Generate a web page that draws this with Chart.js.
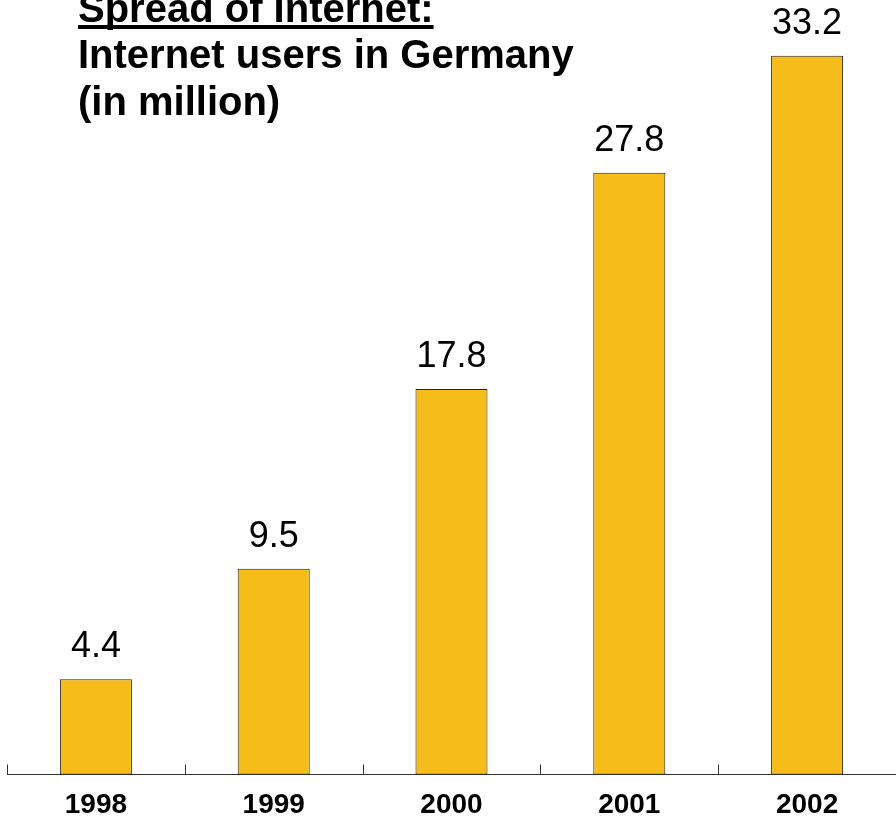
<!DOCTYPE html>
<html>
<head>
<meta charset="utf-8">
<script src="https://cdn.jsdelivr.net/npm/chart.js@4/dist/chart.umd.min.js"></script>
<style>
  html, body { margin: 0; padding: 0; background: #fff; overflow: hidden; }
  /* 軸ラベル下の余白を画面外に逃がすため、少し縦長にしている */
  #wrap { width: 896px; height: 836px; }
</style>
</head>
<body>
<div id="wrap"><canvas id="chart"></canvas></div>
<script>
// データ：ドイツのインターネット利用者数（百万人）
const years = ["1998", "1999", "2000", "2001", "2002"];
const users = [4.4, 9.5, 17.8, 27.8, 33.2];
const valueLabels = ["4.4", "9.5", "17.8", "27.8", "33.2"];
const titleLines = ["Spread of Internet:", "Internet users in Germany", "(in million)"];

const FONT = "'Liberation Sans', Arial, Helvetica, sans-serif";

// タイトル（1行目だけ下線つき）を左上に描く
const titlePlugin = {
  id: "titleText",
  afterDraw(chart) {
    const ctx = chart.ctx;
    ctx.save();
    ctx.fillStyle = "#000";
    ctx.font = "bold 40px " + FONT;
    ctx.textAlign = "left";
    ctx.textBaseline = "alphabetic";
    const baselines = [22, 68, 115];
    titleLines.forEach((t, i) => {
      ctx.fillText(t, 78, baselines[i]);
    });
    const w = ctx.measureText(titleLines[0]).width;
    ctx.fillRect(78, 25, w, 4);
    ctx.restore();
  },
};

// 棒の上の数値ラベル
const valuePlugin = {
  id: "valueText",
  afterDatasetsDraw(chart) {
    const ctx = chart.ctx;
    const meta = chart.getDatasetMeta(0);
    ctx.save();
    ctx.fillStyle = "#000";
    ctx.font = "36px " + FONT;
    ctx.textAlign = "center";
    ctx.textBaseline = "alphabetic";
    meta.data.forEach((bar, i) => {
      ctx.fillText(valueLabels[i], bar.x, bar.y - 22);
    });
    ctx.restore();
  },
};

// カテゴリの間の目盛り（軸線から上向き）
const tickPlugin = {
  id: "betweenTicks",
  afterDraw(chart) {
    const xs = chart.scales.x;
    const ctx = chart.ctx;
    const bottom = chart.chartArea.bottom;
    const xsList = [xs.left];
    for (let i = 1; i < years.length; i++) {
      xsList.push((xs.getPixelForTick(i - 1) + xs.getPixelForTick(i)) / 2);
    }
    xsList.push(xs.right);
    ctx.save();
    ctx.strokeStyle = "#333";
    ctx.lineWidth = 1;
    xsList.forEach((x) => {
      const px = Math.round(x) + 0.5;
      ctx.beginPath();
      ctx.moveTo(px, bottom);
      ctx.lineTo(px, bottom - 10);
      ctx.stroke();
    });
    ctx.restore();
  },
};

new Chart(document.getElementById("chart"), {
  type: "bar",
  data: {
    labels: years,
    datasets: [
      {
        data: users,
        backgroundColor: "#F5BC1A",
        borderColor: "#222",
        borderWidth: 1,
        borderSkipped: false,
        categoryPercentage: 1,
        barPercentage: 0.405,
      },
    ],
  },
  options: {
    responsive: true,
    maintainAspectRatio: false,
    animation: false,
    layout: { padding: { left: 7, right: 0, top: 6, bottom: 0 } },
    plugins: {
      legend: { display: false },
      tooltip: { enabled: false },
      title: { display: false },
    },
    scales: {
      x: {
        grid: { display: false, drawTicks: false },
        border: { display: true, color: "#333", width: 1 },
        ticks: {
          color: "#000",
          font: { family: FONT, size: 28, weight: "bold" },
          padding: 14,
          maxRotation: 0,
        },
      },
      y: {
        display: false,
        min: 0,
        max: 35.5,
      },
    },
  },
  plugins: [titlePlugin, valuePlugin, tickPlugin],
});
</script>
</body>
</html>
